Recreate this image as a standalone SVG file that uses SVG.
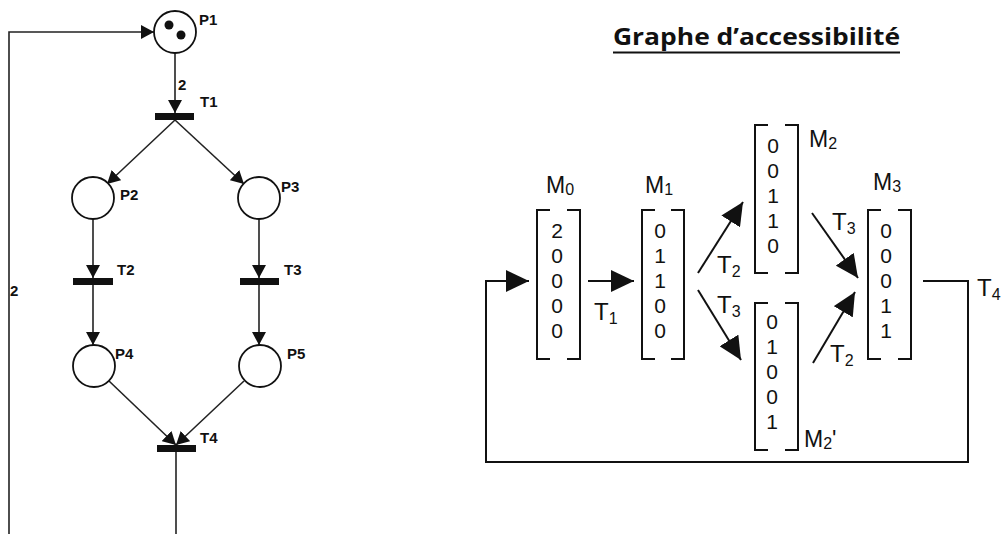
<svg xmlns="http://www.w3.org/2000/svg" width="1003" height="534" viewBox="0 0 1003 534">
<style>
.pl{fill:#fff;stroke:#111;stroke-width:1.8}
.tk{fill:#111}
.tr{fill:#111}
.lb{font-family:"Liberation Sans",Arial,sans-serif;font-weight:bold;font-size:15px;fill:#111}
.arc{fill:none;stroke:#222;stroke-width:1.6}
.br{fill:none;stroke:#111;stroke-width:2}
.dg{font-family:"Liberation Sans",Arial,sans-serif;font-size:21px;fill:#111;text-anchor:middle}
.ml{font-family:"Liberation Sans",Arial,sans-serif;font-size:23px;fill:#111}
.tl{font-family:"Liberation Sans",Arial,sans-serif;font-size:24px;fill:#111}
.sb{font-size:16px}
.ed{fill:none;stroke:#111;stroke-width:2}
</style>
<defs>
<marker id="sa" markerUnits="userSpaceOnUse" markerWidth="14" markerHeight="14" refX="13" refY="7" orient="auto"><path d="M0,0 L13,7 L0,14 z" fill="#111"/></marker>
<marker id="ba" markerUnits="userSpaceOnUse" markerWidth="24" markerHeight="22" refX="23" refY="11" orient="auto"><path d="M0,0 L23,11 L0,22 z" fill="#111"/></marker>
</defs>
<rect width="1003" height="534" fill="#fff"/>

<g id="petri-arcs">
<path class="arc" d="M176,534 V452"/>
<path class="arc" d="M9,534 V32 H154" marker-end="url(#sa)"/>
<path class="arc" d="M175,53 V113" marker-end="url(#sa)"/>
<path class="arc" d="M175,120 L107,184" marker-end="url(#sa)"/>
<path class="arc" d="M175,120 L244,184" marker-end="url(#sa)"/>
<path class="arc" d="M93,219 V278" marker-end="url(#sa)"/>
<path class="arc" d="M259,219 V278" marker-end="url(#sa)"/>
<path class="arc" d="M93,285 V345" marker-end="url(#sa)"/>
<path class="arc" d="M259,285 V345" marker-end="url(#sa)"/>
<path class="arc" d="M109,381 L176,445" marker-end="url(#sa)"/>
<path class="arc" d="M244,381 L176,445" marker-end="url(#sa)"/>
<text class="lb" x="10" y="296">2</text>
<text class="lb" x="178" y="90">2</text>
</g>

<g id="P1"><circle class="pl" cx="175" cy="32" r="21"/><circle class="tk" cx="169" cy="25" r="4.5"/><circle class="tk" cx="181" cy="35" r="4.5"/><text class="lb" x="199" y="25">P1</text></g>
<g id="T1"><rect class="tr" x="155" y="113" width="39" height="7"/><text class="lb" x="200" y="107">T1</text></g>
<g id="P2"><circle class="pl" cx="93" cy="198" r="21"/><text class="lb" x="120" y="200">P2</text></g>
<g id="P3"><circle class="pl" cx="259" cy="198" r="21"/><text class="lb" x="281" y="192">P3</text></g>
<g id="T2"><rect class="tr" x="73" y="278" width="40" height="7"/><text class="lb" x="117" y="275">T2</text></g>
<g id="T3"><rect class="tr" x="240" y="278" width="39" height="7"/><text class="lb" x="284" y="275">T3</text></g>
<g id="P4"><circle class="pl" cx="94" cy="366" r="21"/><text class="lb" x="115" y="359">P4</text></g>
<g id="P5"><circle class="pl" cx="260" cy="366" r="21"/><text class="lb" x="287" y="359">P5</text></g>
<g id="T4"><rect class="tr" x="157" y="445" width="39" height="7"/><text class="lb" x="200" y="443">T4</text></g>

<g id="title">
<text x="613" y="45" font-family="'Open Sans','Liberation Sans',sans-serif" font-weight="bold" font-size="24" fill="#111" textLength="287" lengthAdjust="spacingAndGlyphs">Graphe d’accessibilité</text>
<line x1="613" y1="52.5" x2="900" y2="52.5" stroke="#111" stroke-width="2"/>
</g>

<g id="graph-edges">
<path class="ed" d="M923,281 H968 V462 H486 V281 H529" marker-end="url(#ba)"/>
<path class="ed" d="M588,281 H634" marker-end="url(#ba)"/>
<path class="ed" d="M698,273 L743,202" marker-end="url(#ba)"/>
<path class="ed" d="M698,290 L741,360" marker-end="url(#ba)"/>
<path class="ed" d="M812,213 L858,278" marker-end="url(#ba)"/>
<path class="ed" d="M813,363 L855,292" marker-end="url(#ba)"/>
<text class="tl" x="594" y="320">T<tspan class="sb" dy="4">1</tspan></text>
<text class="tl" x="717" y="273">T<tspan class="sb" dy="4">2</tspan></text>
<text class="tl" x="717" y="313">T<tspan class="sb" dy="4">3</tspan></text>
<text class="tl" x="832" y="230">T<tspan class="sb" dy="4">3</tspan></text>
<text class="tl" x="830" y="362">T<tspan class="sb" dy="4">2</tspan></text>
<text class="tl" x="977" y="296">T<tspan class="sb" dy="4">4</tspan></text>
</g>

<g id="M0">
<text class="ml" x="546" y="193">M<tspan class="sb" dy="2">0</tspan></text>
<path class="br" d="M550,210 H537 V359 H550 M567,210 H580 V359 H567"/>
<text class="dg" x="557" y="238">2</text><text class="dg" x="557" y="263">0</text><text class="dg" x="557" y="288">0</text><text class="dg" x="557" y="313">0</text><text class="dg" x="557" y="338">0</text>
</g>
<g id="M1">
<text class="ml" x="645" y="193">M<tspan class="sb" dy="2">1</tspan></text>
<path class="br" d="M655,210 H642 V359 H655 M671,210 H684 V359 H671"/>
<text class="dg" x="660" y="238">0</text><text class="dg" x="660" y="263">1</text><text class="dg" x="660" y="288">1</text><text class="dg" x="660" y="313">0</text><text class="dg" x="660" y="338">0</text>
</g>
<g id="M2">
<text class="ml" x="809" y="147">M<tspan class="sb" dy="2">2</tspan></text>
<path class="br" d="M768,125 H755 V273 H768 M785,125 H798 V273 H785"/>
<text class="dg" x="773" y="153">0</text><text class="dg" x="773" y="178">0</text><text class="dg" x="773" y="203">1</text><text class="dg" x="773" y="228">1</text><text class="dg" x="773" y="253">0</text>
</g>
<g id="M2p">
<text class="ml" x="804" y="447">M<tspan class="sb" dy="2">2</tspan><tspan dy="-2">'</tspan></text>
<path class="br" d="M768,303 H755 V450 H768 M785,303 H798 V450 H785"/>
<text class="dg" x="772" y="329">0</text><text class="dg" x="772" y="354">1</text><text class="dg" x="772" y="379">0</text><text class="dg" x="772" y="404">0</text><text class="dg" x="772" y="429">1</text>
</g>
<g id="M3">
<text class="ml" x="873" y="190">M<tspan class="sb" dy="2">3</tspan></text>
<path class="br" d="M881,210 H868 V359 H881 M898,210 H911 V359 H898"/>
<text class="dg" x="886" y="238">0</text><text class="dg" x="886" y="263">0</text><text class="dg" x="886" y="288">0</text><text class="dg" x="886" y="313">1</text><text class="dg" x="886" y="338">1</text>
</g>
</svg>
